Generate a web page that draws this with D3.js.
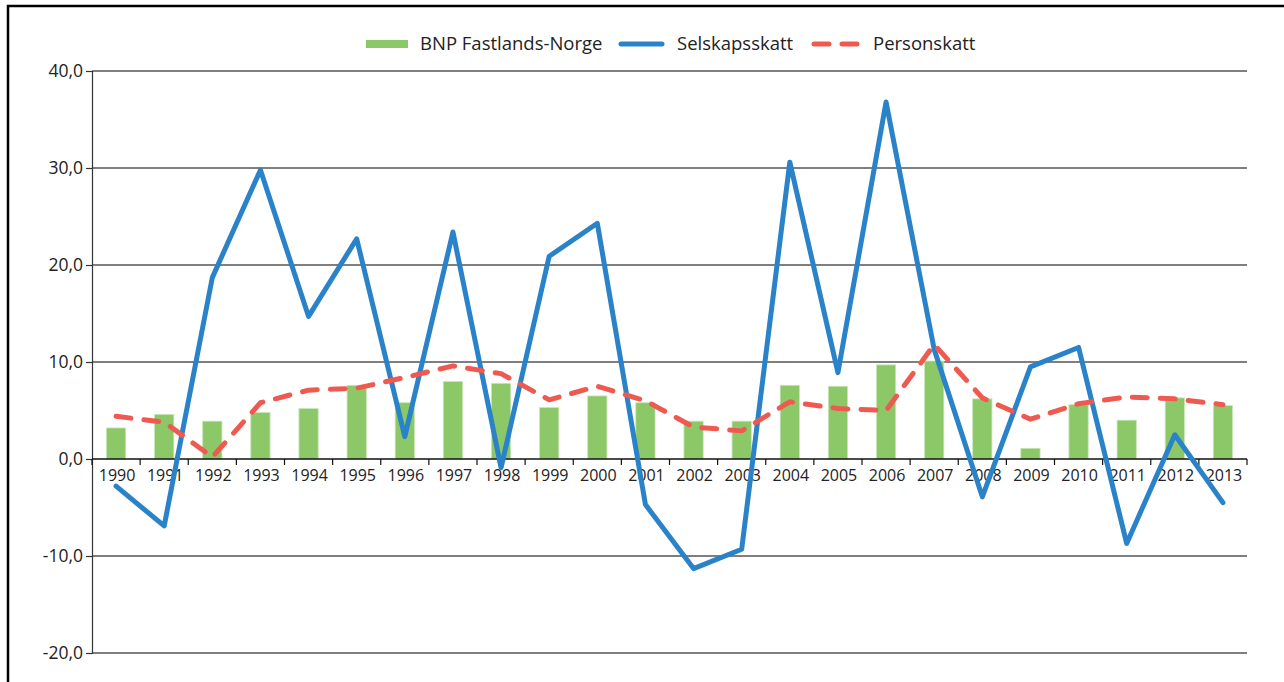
<!DOCTYPE html>
<html>
<head>
<meta charset="utf-8">
<script src="https://cdn.jsdelivr.net/npm/d3@7"></script>
<style>
  html, body { margin: 0; padding: 0; background: #fff; }
  svg { display: block; font-family: 'Open Sans', sans-serif; }
</style>
</head>
<body>
<div id="chart"></div>
<script>
// data
const years = [1990, 1991, 1992, 1993, 1994, 1995, 1996, 1997, 1998, 1999, 2000, 2001,
  2002, 2003, 2004, 2005, 2006, 2007, 2008, 2009, 2010, 2011, 2012, 2013]
const bnp = [3.2, 4.6, 3.9, 4.8, 5.2, 7.6, 5.8, 8.0, 7.8, 5.3, 6.5, 5.8,
  3.9, 3.9, 7.6, 7.5, 9.7, 10.1, 6.2, 1.1, 5.6, 4.0, 6.3, 5.5]
const selskap = [-2.8, -6.9, 18.7, 29.8, 14.7, 22.7, 2.3, 23.4, -0.9, 20.9, 24.3, -4.7,
  -11.3, -9.3, 30.6, 8.9, 36.8, 11.3, -3.9, 9.5, 11.5, -8.7, 2.5, -4.5]
const person = [4.4, 3.8, 0.2, 5.8, 7.1, 7.3, 8.4, 9.6, 8.8, 6.1, 7.5, 6.0,
  3.3, 2.9, 5.9, 5.2, 5.0, 11.8, 6.3, 4.1, 5.7, 6.4, 6.2, 5.6]
const yTicks = [-20, -10, 0, 10, 20, 30, 40]
const seriesNames = ['BNP Fastlands-Norge', 'Selskapsskatt', 'Personskatt']

const W = 1284
const H = 682
const colors = { bar: '#8cc867', blue: '#2a83c9', red: '#ef5a50' }

const svg = d3.select('#chart').append('svg').attr('width', W).attr('height', H)

// frame
svg.append('path')
  .attr('d', 'M8,' + H + ' V6 H' + W)
  .attr('fill', 'none').attr('stroke', '#000').attr('stroke-width', 2.5)

const plotLeft = 92, plotRight = 1247, plotTop = 71, plotBottom = 653

const x = d3.scaleBand().domain(years).range([plotLeft, plotRight]).padding(0)
const y = d3.scaleLinear().domain([-20, 40]).range([plotBottom, plotTop])
const step = x.step()
// plain hyphen and decimal comma, like the original
const fmt = v => (v < 0 ? '-' : '') + d3.format('.1f')(Math.abs(v)).replace('.', ',')

// grid lines
svg.append('g')
  .selectAll('line')
  .data(yTicks.filter(t => t !== 0))
  .join('line')
  .attr('x1', plotLeft).attr('x2', plotRight)
  .attr('y1', d => y(d)).attr('y2', d => y(d))
  .attr('stroke', '#555').attr('stroke-width', 1.3)

// y axis
const yAxis = svg.append('g')
  .attr('transform', `translate(${plotLeft},0)`)
  .call(d3.axisLeft(y).tickValues(yTicks).tickFormat(fmt).tickSize(6).tickPadding(3))
yAxis.select('.domain').attr('stroke', '#333').attr('stroke-width', 1.2)
yAxis.selectAll('.tick line').attr('stroke', '#333').attr('stroke-width', 1.2)
yAxis.selectAll('text').attr('font-size', 17.5).attr('fill', '#222')
  .attr('font-family', "'Open Sans', sans-serif")

// bars
svg.append('g')
  .selectAll('rect')
  .data(years)
  .join('rect')
  .attr('x', (d) => x(d) + step * 0.3)
  .attr('width', step * 0.4)
  .attr('y', (d, i) => y(Math.max(0, bnp[i])))
  .attr('height', (d, i) => Math.abs(y(bnp[i]) - y(0)))
  .attr('fill', colors.bar)
  .attr('stroke', '#c9e6b8').attr('stroke-width', 0.8)

// x axis line at zero with ticks between categories
const xg = svg.append('g').attr('transform', `translate(0,${y(0)})`)
xg.append('line').attr('x1', plotLeft).attr('x2', plotRight)
  .attr('stroke', '#111').attr('stroke-width', 1.3)
xg.selectAll('line.tk')
  .data(d3.range(years.length + 1))
  .join('line')
  .attr('class', 'tk')
  .attr('x1', i => plotLeft + i * step).attr('x2', i => plotLeft + i * step)
  .attr('y1', 0).attr('y2', 6)
  .attr('stroke', '#111').attr('stroke-width', 1.2)
xg.selectAll('text')
  .data(years)
  .join('text')
  .attr('x', d => x(d) + step / 2 + 1)
  .attr('y', 22)
  .attr('text-anchor', 'middle')
  .attr('font-size', 16)
  .attr('fill', '#222')
  .text(d => d)

// lines
const line = d3.line()
  .x((d, i) => x(years[i]) + step / 2)
  .y(d => y(d))

svg.append('path')
  .datum(selskap)
  .attr('d', line)
  .attr('fill', 'none')
  .attr('stroke', colors.blue)
  .attr('stroke-width', 5)
  .attr('stroke-linejoin', 'round')
  .attr('stroke-linecap', 'round')

svg.append('path')
  .datum(person)
  .attr('d', line)
  .attr('fill', 'none')
  .attr('stroke', colors.red)
  .attr('stroke-width', 5)
  .attr('stroke-linejoin', 'round')
  .attr('stroke-linecap', 'round')
  .attr('stroke-dasharray', '15 13')

// legend
const legend = svg.append('g').attr('transform', 'translate(0,44)')
const items = [
  { name: seriesNames[0], x: 365, type: 'bar', tx: 55 },
  { name: seriesNames[1], x: 615, type: 'blue', tx: 62 },
  { name: seriesNames[2], x: 810, type: 'red', tx: 63 },
]
items.forEach(it => {
  const g = legend.append('g').attr('transform', `translate(${it.x},0)`)
  if (it.type === 'bar') {
    g.append('rect').attr('x', 1).attr('y', -4).attr('width', 42).attr('height', 8)
      .attr('fill', colors.bar)
  } else if (it.type === 'blue') {
    g.append('line').attr('x1', 6).attr('x2', 47).attr('stroke', colors.blue)
      .attr('stroke-width', 5).attr('stroke-linecap', 'round')
  } else {
    g.append('line').attr('x1', 4).attr('x2', 47).attr('stroke', colors.red)
      .attr('stroke-width', 5).attr('stroke-linecap', 'round')
      .attr('stroke-dasharray', '15 13')
  }
  g.append('text')
    .attr('x', it.tx).attr('y', 6)
    .attr('font-size', 18.5)
    .attr('fill', '#222')
    .text(it.name)
})
</script>
</body>
</html>
